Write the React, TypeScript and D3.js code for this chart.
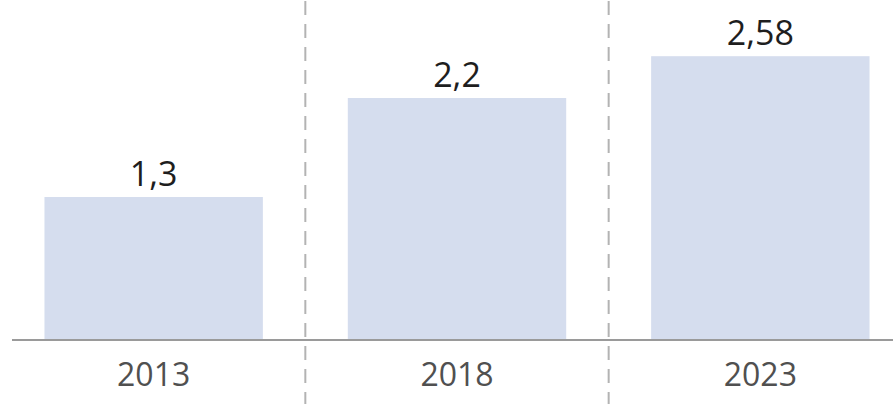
import React from "react";
import * as d3 from "d3";

const categories: string[] = ["2013", "2018", "2023"];
const values: number[] = [1.3, 2.2, 2.58];
const valueLabels: string[] = ["1,3", "2,2", "2,58"];

const W = 893;
const H = 404;

export default function App() {
  const x = d3
    .scaleBand<string>()
    .domain(categories)
    .range([2, 912])
    .paddingInner(0.28)
    .paddingOuter(0.14);
  const y = d3.scaleLinear().domain([0, 3]).range([340, 10]);
  const bw = x.bandwidth();
  const gap = x.step() * x.paddingInner();
  const font = "'Open Sans', 'Noto Sans', sans-serif";

  return (
    <svg
      width={W}
      height={H}
      style={{ position: "absolute", left: 0, top: 0, background: "#fff" }}
    >
      {categories.slice(0, -1).map((c) => {
        const xx = (x(c) as number) + bw + gap / 2;
        return (
          <line
            key={"d" + c}
            x1={xx}
            x2={xx}
            y1={0}
            y2={H}
            stroke="#b3b3b3"
            strokeWidth={2}
            strokeDasharray="14 9"
            strokeDashoffset={-1}
          />
        );
      })}
      {categories.map((c, i) => (
        <rect
          key={"b" + c}
          x={x(c)}
          y={y(values[i])}
          width={bw}
          height={y(0) - y(values[i])}
          fill="#d5ddee"
        />
      ))}
      <line x1={12} x2={W} y1={y(0)} y2={y(0)} stroke="#9a9a9a" strokeWidth={2} />
      {categories.map((c, i) => (
        <text
          key={"v" + c}
          x={(x(c) as number) + bw / 2}
          y={y(values[i]) - 11}
          textAnchor="middle"
          fontFamily={font}
          fontSize={34}
          fill="#1e1e1e"
        >
          {valueLabels[i]}
        </text>
      ))}
      {categories.map((c) => (
        <text
          key={"c" + c}
          x={(x(c) as number) + bw / 2}
          y={386}
          textAnchor="middle"
          fontFamily={font}
          fontSize={32}
          fill="#505050"
        >
          {c}
        </text>
      ))}
    </svg>
  );
}
